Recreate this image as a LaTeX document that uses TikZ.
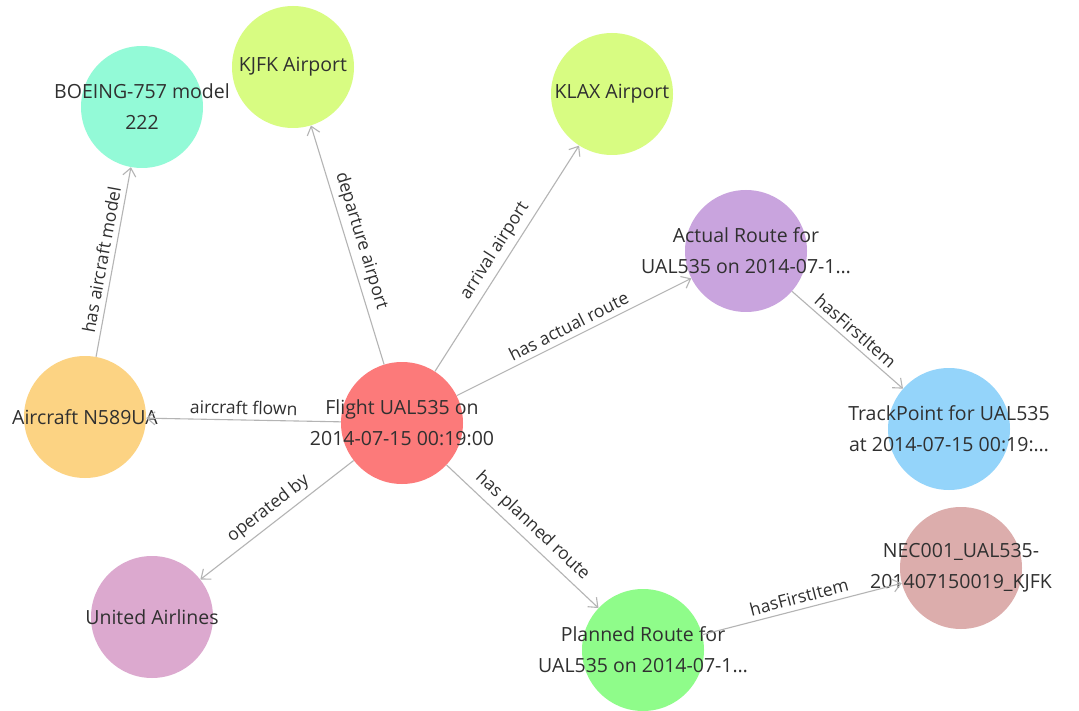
\documentclass[tikz,border=0pt]{standalone}
\usepackage{fontspec}
\setmainfont{Open Sans}
\usetikzlibrary{arrows.meta}
\definecolor{cBoeing}{RGB}{147,250,215}
\definecolor{cAirport}{RGB}{216,252,130}
\definecolor{cActual}{RGB}{201,164,222}
\definecolor{cTrack}{RGB}{148,212,250}
\definecolor{cAircraft}{RGB}{252,211,131}
\definecolor{cFlight}{RGB}{252,122,122}
\definecolor{cUnited}{RGB}{220,169,207}
\definecolor{cPlanned}{RGB}{143,252,138}
\definecolor{cNec}{RGB}{220,173,172}
\definecolor{txt}{RGB}{48,48,48}
\definecolor{edgec}{RGB}{180,180,180}
\begin{document}
\begin{tikzpicture}[x=1pt,y=-1pt,
  nd/.style={circle,minimum size=122pt,inner sep=0pt,draw=none},
  ntext/.style={text=txt,font=\fontsize{19.5}{31}\selectfont,align=center,inner sep=0pt},
  ed/.style={draw=edgec,line width=1.1pt,-{Straight Barb[length=8pt,width=13pt,line width=1.1pt]}},
  el/.style={sloped,above,pos=0.5,inner sep=5pt,font=\fontsize{17.5}{19}\selectfont,text=txt}]
\fill[white] (0,0) rectangle (1079,711);
\useasboundingbox (0,0) rectangle (1079,711);

\node[nd,fill=cBoeing,label={[ntext]center:{BOEING-757 model\\222}}] (boeing) at (142,107) {};
\node[nd,fill=cAirport,label={[ntext]center:{KJFK Airport}}] (kjfk) at (293,67) {};
\node[nd,fill=cAirport,label={[ntext]center:{KLAX Airport}}] (klax) at (612,94) {};
\node[nd,fill=cActual,label={[ntext]center:{Actual Route for\\UAL535 on 2014-07-1…}}] (actual) at (746,251) {};
\node[nd,fill=cTrack,label={[ntext]center:{TrackPoint for UAL535\\at 2014-07-15 00:19:…}}] (track) at (949,429) {};
\node[nd,fill=cAircraft,label={[ntext]center:{Aircraft N589UA}}] (aircraft) at (85,417) {};
\node[nd,fill=cFlight,label={[ntext]center:{Flight UAL535 on\\2014-07-15 00:19:00}}] (flight) at (402,423) {};
\node[nd,fill=cUnited,label={[ntext]center:{United Airlines}}] (united) at (152,617) {};
\node[nd,fill=cPlanned,label={[ntext]center:{Planned Route for\\UAL535 on 2014-07-1…}}] (planned) at (643,650) {};
\node[nd,fill=cNec,label={[ntext]center:{NEC001\_UAL535-\\201407150019\_KJFK}}] (nec) at (961,568) {};

\draw[ed] (aircraft) -- node[el]{has aircraft model} (boeing);
\draw[ed] (flight) -- node[el]{departure airport} (kjfk);
\draw[ed] (flight) -- node[el]{arrival airport} (klax);
\draw[ed] (flight) -- node[el]{has actual route} (actual);
\draw[ed] (actual) -- node[el]{hasFirstItem} (track);
\draw[ed] (flight) -- node[el]{aircraft flown} (aircraft);
\draw[ed] (flight) -- node[el]{operated by} (united);
\draw[ed] (flight) -- node[el]{has planned route} (planned);
\draw[ed] (planned) -- node[el]{hasFirstItem} (nec);
\end{tikzpicture}
\end{document}
